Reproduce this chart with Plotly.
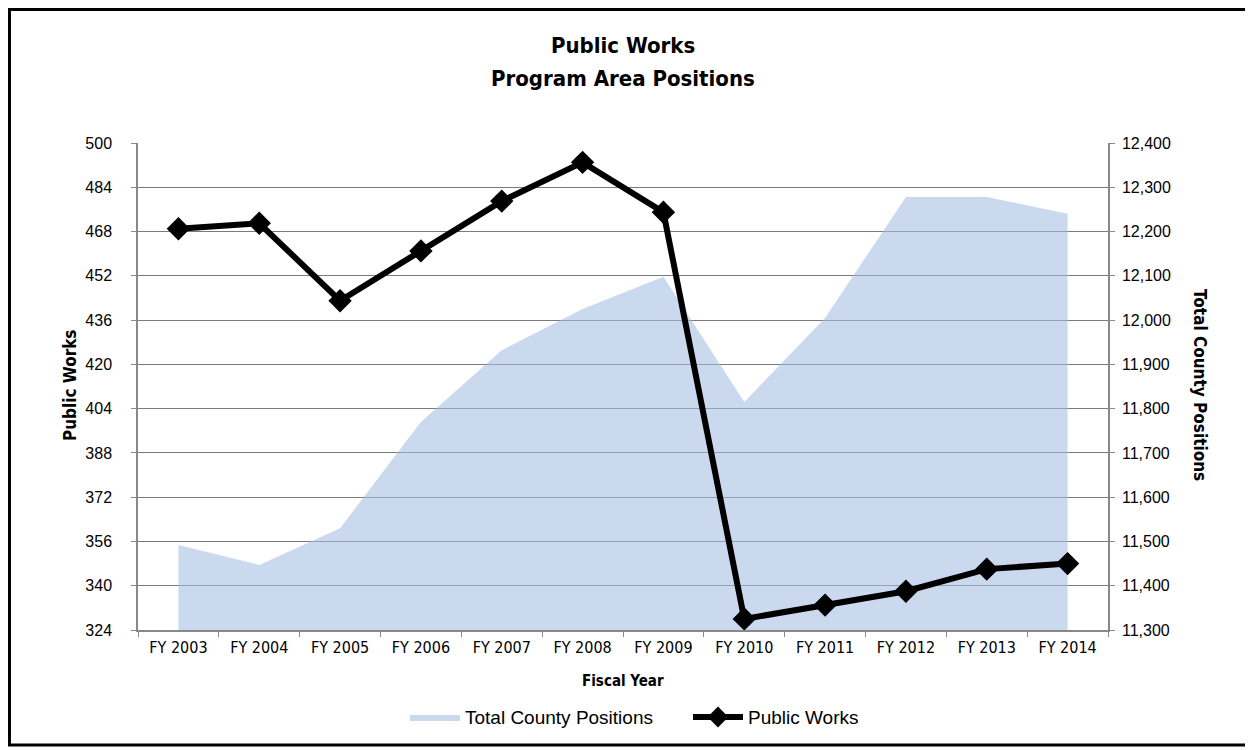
import plotly.graph_objects as go

years = ["FY 2003", "FY 2004", "FY 2005", "FY 2006", "FY 2007", "FY 2008",
         "FY 2009", "FY 2010", "FY 2011", "FY 2012", "FY 2013", "FY 2014"]
public_works = [469, 471, 443, 461, 479, 493, 475, 328, 333, 338, 346, 348]
total_county = [11492, 11447, 11530, 11770, 11932, 12025, 12098, 11815, 12005, 12278, 12278, 12240]

left_ticks = list(range(324, 501, 16))
right_ticks = list(range(11300, 12401, 100))

NARROW = "Liberation Sans Narrow, DejaVu Sans Condensed, Arial Narrow, sans-serif"
SANS = "Liberation Sans, Arial, sans-serif"

fig = go.Figure()

# Area on base axis (drawn beneath), shown on the right side
fig.add_trace(go.Scatter(
    x=years, y=total_county, name="Total County Positions",
    mode="lines", line=dict(color="rgba(175,198,228,0.0)", width=0),
    fill="tozeroy", fillcolor="rgba(165,190,226,0.58)",
    yaxis="y", legendrank=1,
))

# Line on overlay axis (drawn on top), shown on the left side
fig.add_trace(go.Scatter(
    x=years, y=public_works, name="Public Works",
    mode="lines+markers", line=dict(color="black", width=6),
    marker=dict(symbol="diamond", size=18, color="black"),
    yaxis="y2", legendrank=2,
))

fig.update_layout(
    width=1245, height=742,
    margin=dict(l=130, r=145, t=135, b=120),
    paper_bgcolor="white", plot_bgcolor="white",
    showlegend=True,
    legend=dict(orientation="h", x=0.567, xanchor="center", y=-0.179, yanchor="middle",
                font=dict(family=SANS, size=19, color="black"), itemwidth=50,
                entrywidth=218, bgcolor="rgba(0,0,0,0)"),
    xaxis=dict(
        type="category", range=[-0.5, 11.5],
        showline=True, linecolor="#888", linewidth=1.5,
        ticks="outside", tickson="boundaries", ticklen=5, tickcolor="#888",
        tickfont=dict(family=NARROW, size=16, color="black"),
        ticklabelstandoff=2,
        showgrid=False,
    ),
    yaxis=dict(
        side="right", range=[11300, 12400], tickvals=right_ticks,
        tickformat=",d", showgrid=True, gridcolor="#7a7a7a", gridwidth=1,
        showline=True, linecolor="#888", linewidth=1.5,
        ticks="outside", ticklen=5, tickcolor="#888",
        tickfont=dict(family=SANS, size=16, color="black"),
        ticklabelstandoff=4,
        zeroline=False,
    ),
    yaxis2=dict(
        overlaying="y", side="left", range=[324, 500], tickvals=left_ticks,
        showgrid=False, showline=True, linecolor="#888", linewidth=1.5,
        ticks="outside", ticklen=5, tickcolor="#888",
        tickfont=dict(family=SANS, size=16, color="black"),
        ticklabelstandoff=16,
        zeroline=False,
    ),
    annotations=[
        dict(text="<b>Public Works</b>", x=0.5, y=1.201, xref="paper", yref="paper",
             xanchor="center", yanchor="middle",
             showarrow=False, font=dict(family=NARROW, size=22, color="black")),
        dict(text="<b>Program Area Positions</b>", x=0.5, y=1.133, xref="paper", yref="paper",
             xanchor="center", yanchor="middle",
             showarrow=False, font=dict(family=NARROW, size=22, color="black")),
        dict(text="<b>Public Works</b>", x=-0.0701, y=0.503, xref="paper", yref="paper",
             xanchor="center", yanchor="middle",
             textangle=-90, showarrow=False, font=dict(family=NARROW, size=17, color="black")),
        dict(text="<b>Total County Positions</b>", x=1.0948, y=0.503, xref="paper", yref="paper",
             xanchor="center", yanchor="middle",
             textangle=90, showarrow=False, font=dict(family=NARROW, size=17, color="black")),
        dict(text="<b>Fiscal Year</b>", x=0.5, y=-0.1047, xref="paper", yref="paper",
             xanchor="center", yanchor="middle",
             showarrow=False, font=dict(family=NARROW, size=15, color="black")),
    ],
    shapes=[
        dict(type="rect", xref="paper", yref="paper",
             x0=-0.1325, x1=1.1443, y0=-0.2361, y1=1.2741,
             line=dict(color="black", width=3), fillcolor="rgba(0,0,0,0)", layer="below"),
    ],
)

fig.write_html("out.html")
